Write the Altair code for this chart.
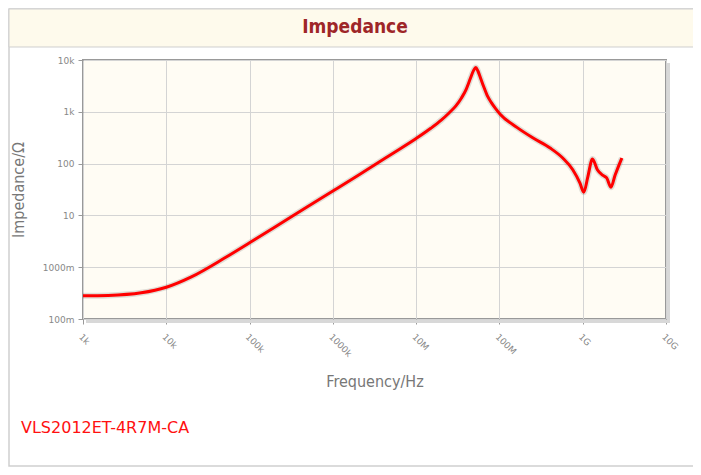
import altair as alt
import pandas as pd

# ---- data ----
freq_hz = [1e3, 2e3, 5e3, 1e4, 2e4, 5e4, 1e5, 2e5, 5e5, 1e6, 2e6, 5e6, 1e7,
           1.5e7, 2e7, 2.5e7, 3e7, 3.5e7, 4e7, 4.5e7, 4.9e7, 5.2e7, 5.5e7,
           5.9e7, 6.5e7, 7.2e7, 8e7, 9e7, 1.02e8,
           1.62e8, 2.51e8, 4.06e8, 5.76e8, 7.6e8, 9.27e8, 1.03e9, 1.15e9,
           1.31e9, 1.5e9, 1.73e9, 1.94e9, 2.18e9, 2.45e9, 2.95e9]
impedance_ohm = [0.28, 0.285, 0.32, 0.41, 0.65, 1.5, 2.96, 5.9, 14.8, 29.5, 59,
                 150, 305, 480, 690, 960, 1300, 1850, 2750, 4500, 6300, 7200,
                 6200, 4600, 3000, 2000, 1500, 1150, 900,
                 500, 315, 200, 128, 76, 42, 28, 55, 123, 76, 60, 53, 35, 60, 128]

x_ticks = [1e3, 1e4, 1e5, 1e6, 1e7, 1e8, 1e9, 1e10]
x_labels = ["1k", "10k", "100k", "1000k", "10M", "100M", "1G", "10G"]
y_ticks = [0.1, 1, 10, 100, 1000, 10000]
y_labels = ["100m", "1000m", "10", "100", "1k", "10k"]

title_text = "Impedance"
x_title = "Frequency/Hz"
y_title = "Impedance/Ω"
part_name = "VLS2012ET-4R7M-CA"

W, H = 583, 259

df = pd.DataFrame({"freq": freq_hz, "imp": impedance_ohm})
one = pd.DataFrame({"k": [0]})

x_expr = "[" + ",".join(f"'{s}'" for s in x_labels) + "][round(log(datum.value)/LN10) - 3]"
y_expr = "[" + ",".join(f"'{s}'" for s in y_labels) + "][round(log(datum.value)/LN10) + 1]"

x_enc = alt.X("freq:Q",
              scale=alt.Scale(type="log", domain=[1e3, 1e10], nice=False),
              axis=alt.Axis(values=x_ticks, labelExpr=x_expr, labelAngle=45,
                            labelAlign="left", labelBaseline="top",
                            labelPadding=8, labelFontSize=9, labelColor="#888",
                            labelFont="DejaVu Sans",
                            tickSize=5, tickColor="#999", domain=False,
                            grid=True, gridColor="#d4d4d4",
                            title=x_title, titleFont="DejaVu Sans Condensed",
                            titleFontSize=16, titleFontWeight="normal",
                            titleColor="#777", titleY=67,
                            titleBaseline="alphabetic"))
y_enc = alt.Y("imp:Q",
              scale=alt.Scale(type="log", domain=[0.1, 1e4], nice=False),
              axis=alt.Axis(values=y_ticks, labelExpr=y_expr, labelPadding=4,
                            labelFontSize=9, labelColor="#888",
                            labelFont="DejaVu Sans",
                            tickSize=5, tickColor="#999", domain=False,
                            grid=True, gridColor="#d4d4d4",
                            title=y_title, titleFont="DejaVu Sans Condensed",
                            titleFontSize=16, titleFontWeight="normal",
                            titleColor="#777", titleX=-60, titleY=H / 2,
                            titleBaseline="alphabetic"))

frame = alt.Chart(one).mark_rect(fill="white", fillOpacity=0, stroke="#cfcfcf",
                                 strokeWidth=1.5).encode(
    x=alt.value(-74), x2=alt.value(620), y=alt.value(-51), y2=alt.value(406))
band = alt.Chart(one).mark_rect(fill="#fefaec", stroke="#cfcfcf",
                                strokeWidth=1).encode(
    x=alt.value(-74), x2=alt.value(620), y=alt.value(-51), y2=alt.value(-13))
title = alt.Chart(one).mark_text(font="DejaVu Sans Condensed", fontSize=19,
                                 fontWeight="bold", color="#9e2628",
                                 align="center", baseline="middle").encode(
    x=alt.value(272), y=alt.value(-33), text=alt.value(title_text))
footer = alt.Chart(one).mark_text(font="DejaVu Sans", fontSize=16,
                                  color="#ff1010", align="left",
                                  baseline="middle").encode(
    x=alt.value(-62), y=alt.value(368), text=alt.value(part_name))
shadow_r = alt.Chart(one).mark_rect(fill="#d8d8d8").encode(
    x=alt.value(W + 1), x2=alt.value(W + 4), y=alt.value(3), y2=alt.value(H + 4))
shadow_b = alt.Chart(one).mark_rect(fill="#d8d8d8").encode(
    x=alt.value(3), x2=alt.value(W + 4), y=alt.value(H + 1), y2=alt.value(H + 4))

halo = alt.Chart(df).mark_line(color="#000", opacity=0.12, strokeWidth=6,
                               interpolate="monotone").encode(x=x_enc, y=y_enc)
line = alt.Chart(df).mark_line(color="#ff0000", strokeWidth=3,
                               interpolate="monotone").encode(x=x_enc, y=y_enc)

chart = alt.layer(frame, band, title, footer, shadow_r, shadow_b, halo, line).properties(
    width=W, height=H,
    autosize=alt.AutoSizeParams(type="none"),
    padding={"left": 75, "top": 52, "right": 27, "bottom": 148},
    background="white",
).configure_view(fill="#fffcf4", stroke="#999", strokeWidth=2)

chart.save("out.html", embed_options={"renderer": "svg", "actions": False})
